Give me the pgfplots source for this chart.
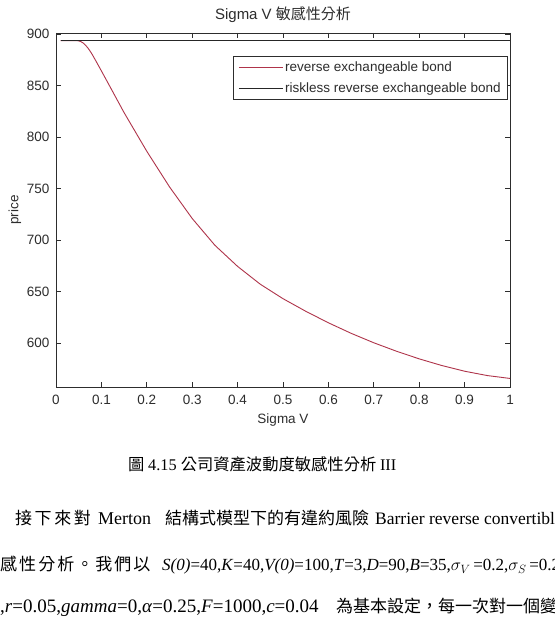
\documentclass[border=0pt]{standalone}
\usepackage{fontspec}
\setmainfont{Liberation Serif}
\newfontfamily\axfont{Liberation Sans}
\newfontfamily\cjk{Noto Sans CJK TC}
\usepackage{pgfplots}
\pgfplotsset{compat=1.18}
\definecolor{redline}{RGB}{175,52,74}
\definecolor{axgray}{RGB}{45,45,45}

\pgfplotstableread{
s p
0.010 893.6
0.045 893.6
0.050 893.3
0.055 892.6
0.060 891.2
0.065 889.2
0.070 886.6
0.075 883.5
0.080 880.0
0.090 872.2
0.100 864.2
0.125 844.0
0.150 823.7
0.200 786.2
0.250 751.7
0.300 721.0
0.350 695.0
0.400 674.5
0.450 657.2
0.500 643.2
0.550 631.0
0.600 619.8
0.650 609.6
0.700 600.4
0.750 592.2
0.800 584.8
0.850 578.3
0.900 572.8
0.950 568.6
1.000 565.8
}\rebond

\pgfplotstableread{
s p
0.01 893.6
1.00 893.6
}\riskless

\newcommand{\seg}[3]{\node[anchor=base west,inner sep=0pt] at (#1,617-#2) {#3};}

\begin{document}
\begin{tikzpicture}[x=1pt,y=1pt]
\fill[white] (0,0) rectangle (554,617);
\begin{axis}[
  at={(56pt,230pt)}, anchor=south west,
  scale only axis, width=454pt, height=354pt,
  xmin=0, xmax=1, ymin=557.5, ymax=901,
  xtick={0,0.1,0.2,0.3,0.4,0.5,0.6,0.7,0.8,0.9,1},
  xticklabels={0,0.1,0.2,0.3,0.4,0.5,0.6,0.7,0.8,0.9,1},
  ytick={600,650,700,750,800,850,900},
  tick align=inside, major tick length=5pt,
  axis line style={draw=axgray, line width=0.9pt},
  every tick/.style={draw=axgray, line width=0.8pt},
  tick label style={font=\axfont\fontsize{13.5}{15}\selectfont, text=axgray},
  /pgf/number format/assume math mode=true,
  xticklabel style={yshift=-5pt},
  yticklabel style={xshift=-3pt},
  title={\axfont Sigma V \cjk 敏感性分析},
  title style={at={(axis description cs:0.5,1.0339)}, anchor=center, font=\fontsize{15}{17}\selectfont, text=axgray},
  xlabel={Sigma V},
  xlabel style={at={(axis description cs:0.5,-0.0932)}, anchor=center, font=\axfont\fontsize{13.5}{15}\selectfont, text=axgray},
  ylabel={price},
  ylabel style={at={(axis description cs:-0.0903,0.5)}, anchor=center, font=\axfont\fontsize{13.5}{15}\selectfont, text=axgray},
  legend style={at={(0.9956,0.935)}, anchor=north east, draw=axgray, line width=0.8pt,
    font=\axfont\fontsize{13.5}{15}\selectfont, text=axgray, fill=white,
    inner xsep=5pt, inner ysep=3pt, row sep=6pt},
  legend cell align=left,
  legend image code/.code={\draw[#1] (0pt,0pt) -- (44pt,0pt);},
]
\addplot[redline, line width=0.9pt] table[x=s,y=p] {\rebond};
\addlegendentry{reverse exchangeable bond}
\addplot[black!85, line width=0.9pt] table[x=s,y=p] {\riskless};
\addlegendentry{riskless reverse exchangeable bond}
\end{axis}
% caption and body text below the figure
\begin{scope}[font=\fontsize{16.3}{19}\selectfont]
\seg{128}{471}{\cjk 圖\ \rmfamily 4.15 \cjk 公司資產波動度敏感性分析 \rmfamily III}
\end{scope}
\seg{15}{525}{\fontsize{17}{20}\selectfont\cjk\addfontfeatures{LetterSpace=15}接下來對}
\seg{98}{525}{\fontsize{18}{20}\selectfont Merton}
\seg{165}{525}{\fontsize{17}{20}\selectfont\cjk 結構式模型下的有違約風險}
\seg{375}{525}{\fontsize{17.5}{20}\selectfont Barrier reverse convertible}
\seg{0}{571}{\fontsize{17}{20}\selectfont\cjk\addfontfeatures{LetterSpace=12}感性分析。我們以}
\seg{162}{571}{\fontsize{17}{20}\selectfont\textit{S(0)}=40,\textit{K}=40,\textit{V(0)}=100,\textit{T}=3,\textit{D}=90,\textit{B}=35,$\sigma_V$\,=0.2,$\sigma_S$\,=0.2}
\seg{0}{612}{\fontsize{19}{21}\selectfont ,\textit{r}=0.05,\textit{gamma}=0,\textit{α}=0.25,\textit{F}=1000,\textit{c}=0.04}
\seg{336}{612}{\fontsize{17}{20}\selectfont\cjk 為基本設定，每一次對一個變數}
\pgfresetboundingbox
\useasboundingbox (0,0) rectangle (554,617);
\end{tikzpicture}
\end{document}
